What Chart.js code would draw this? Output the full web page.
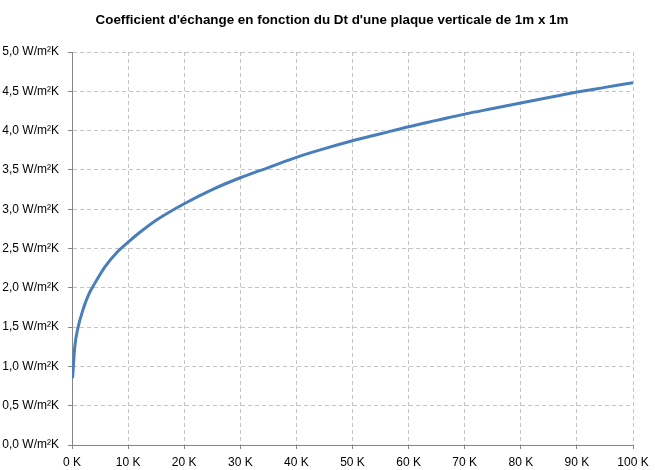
<!DOCTYPE html>
<html>
<head>
<meta charset="utf-8">
<script src="https://cdn.jsdelivr.net/npm/chart.js@4"></script>
<style>
  html, body { margin: 0; padding: 0; background: #fff; }
  #wrap { width: 655px; height: 470px; }
</style>
</head>
<body>
<div id="wrap"><canvas id="hChart" width="655" height="470"></canvas></div>
<script>
// Dt (K) and exchange coefficient (W/m²K)
const deltaT = [0.1, 0.5, 1, 2, 3, 4, 5, 6, 8, 10, 12, 15, 20, 25, 30, 35, 40, 45, 50, 55, 60, 65, 70, 75, 80, 85, 90, 95, 100];
const coeffH = [0.85, 1.25, 1.47, 1.73, 1.92, 2.05, 2.17, 2.28, 2.45, 2.58, 2.70, 2.86, 3.07, 3.25, 3.40, 3.53, 3.66, 3.77, 3.87, 3.96, 4.05, 4.13, 4.21, 4.28, 4.35, 4.42, 4.49, 4.55, 4.61];

const xTicks = [0, 10, 20, 30, 40, 50, 60, 70, 80, 90, 100];
const xTickLabels = ['0 K', '10 K', '20 K', '30 K', '40 K', '50 K', '60 K', '70 K', '80 K', '90 K', '100 K'];
const yTicks = [0, 0.5, 1, 1.5, 2, 2.5, 3, 3.5, 4, 4.5, 5];
const yTickLabels = ['0,0 W/m²K', '0,5 W/m²K', '1,0 W/m²K', '1,5 W/m²K', '2,0 W/m²K', '2,5 W/m²K',
                     '3,0 W/m²K', '3,5 W/m²K', '4,0 W/m²K', '4,5 W/m²K', '5,0 W/m²K'];

const chartTitle = "Coefficient d'échange en fonction du Dt d'une plaque verticale de 1m x 1m";

const points = deltaT.map((x, i) => ({ x: x, y: coeffH[i] }));

function labelFor(ticks, labels, value) {
    const i = ticks.findIndex(t => Math.abs(t - value) < 1e-6);
    return i >= 0 ? labels[i] : '';
}

// title is centred on the whole canvas, not on the padded layout box
const titlePlugin = {
    id: 'pageTitle',
    afterDraw(chart) {
        const c = chart.ctx;
        c.save();
        c.font = 'bold 13.4px "Liberation Sans"';
        c.fillStyle = '#000';
        c.textAlign = 'center';
        c.textBaseline = 'middle';
        c.fillText(chartTitle, 332, 20);
        c.restore();
    }
};

const gridStyle = {
    color: '#c4c4c4',
    lineWidth: 1,
    tickLength: 4,
    tickColor: '#868686'
};
const borderStyle = { color: '#868686', width: 1, dash: [4, 3] };

const ctx = document.getElementById('hChart').getContext('2d');
new Chart(ctx, {
    type: 'line',
    data: {
        datasets: [{
            data: points,
            borderColor: '#4a7ebb',
            borderWidth: 3,
            pointRadius: 0,
            fill: false,
            cubicInterpolationMode: 'monotone'
        }]
    },
    options: {
        responsive: false,
        animation: false,
        layout: { padding: { left: 0, right: 22, top: 52, bottom: 0 } },
        plugins: {
            legend: { display: false },
            tooltip: { enabled: false },
            title: { display: false }
        },
        scales: {
            x: {
                type: 'linear',
                min: 0,
                max: 100,
                afterBuildTicks: axis => { axis.ticks = xTicks.map(v => ({ value: v })); },
                afterFit: axis => { axis.height = 25; },
                grid: gridStyle,
                border: borderStyle,
                ticks: {
                    color: '#000',
                    font: { family: 'Liberation Sans', size: 12 },
                    padding: 6,
                    maxRotation: 0,
                    callback: v => labelFor(xTicks, xTickLabels, v)
                }
            },
            y: {
                min: 0,
                max: 5,
                afterBuildTicks: axis => { axis.ticks = yTicks.map(v => ({ value: v })); },
                afterFit: axis => { axis.width = 72; },
                grid: gridStyle,
                border: borderStyle,
                ticks: {
                    color: '#000',
                    font: { family: 'Liberation Sans', size: 12 },
                    padding: 9,
                    callback: v => labelFor(yTicks, yTickLabels, v)
                }
            }
        }
    },
    plugins: [titlePlugin]
});
</script>
</body>
</html>
